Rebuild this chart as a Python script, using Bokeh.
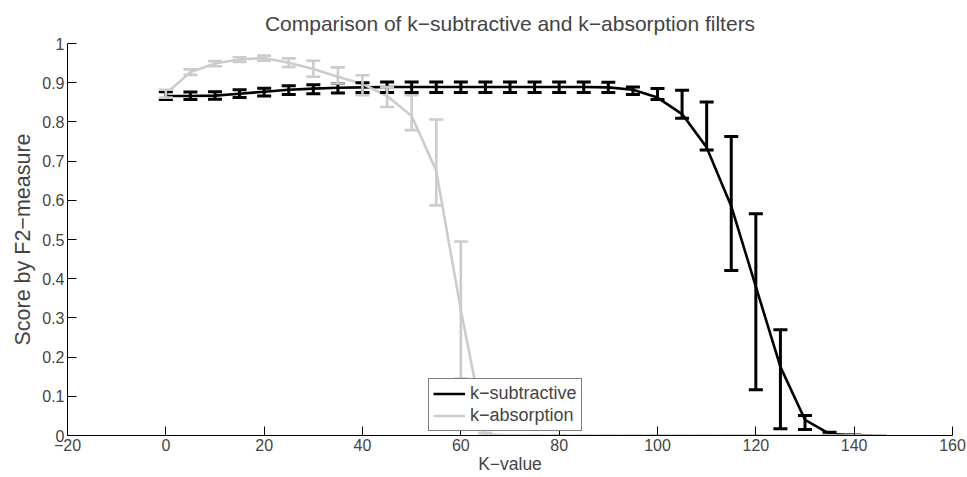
from bokeh.plotting import figure
from bokeh.models import (Range1d, FixedTicker, Whisker, TeeHead, ColumnDataSource,
                          Legend, LegendItem)
from bokeh.embed import file_html
from bokeh.resources import INLINE

# ---- data ----
k_values = [0, 5, 10, 15, 20, 25, 30, 35, 40, 45, 50, 55, 60, 65, 70,
            75, 80, 85, 90, 95, 100, 105, 110, 115, 120, 125, 130, 135, 140, 145]

sub_mean = [0.866, 0.866, 0.867, 0.872, 0.877, 0.882, 0.885, 0.887, 0.888, 0.889,
            0.889, 0.889, 0.889, 0.889, 0.889, 0.889, 0.889, 0.889, 0.888, 0.882,
            0.862, 0.820, 0.735, 0.585, 0.380, 0.175, 0.040, 0.004, 0.001, 0.000]
sub_low = [0.857, 0.857, 0.858, 0.862, 0.866, 0.870, 0.872, 0.874, 0.875, 0.875,
           0.875, 0.875, 0.875, 0.875, 0.875, 0.875, 0.875, 0.875, 0.875, 0.870,
           0.857, 0.809, 0.728, 0.421, 0.117, 0.017, 0.015, 0.000, 0.000, 0.000]
sub_high = [0.877, 0.876, 0.877, 0.882, 0.886, 0.892, 0.895, 0.898, 0.900, 0.902,
            0.902, 0.902, 0.902, 0.902, 0.902, 0.902, 0.902, 0.902, 0.901, 0.889,
            0.885, 0.881, 0.851, 0.763, 0.566, 0.270, 0.051, 0.008, 0.001, 0.000]

abs_mean = [0.872, 0.927, 0.949, 0.959, 0.963, 0.951, 0.935, 0.915, 0.897, 0.866,
            0.815, 0.675, 0.320, 0.003, 0.0, 0.0, 0.0, 0.0, 0.0, 0.0,
            0.0, 0.0, 0.0, 0.0, 0.0, 0.0, 0.0, 0.0, 0.0, 0.0]
abs_low = [0.862, 0.920, 0.942, 0.953, 0.956, 0.940, 0.915, 0.898, 0.868, 0.838,
           0.779, 0.587, 0.145, 0.000, 0.0, 0.0, 0.0, 0.0, 0.0, 0.0,
           0.0, 0.0, 0.0, 0.0, 0.0, 0.0, 0.0, 0.0, 0.0, 0.0]
abs_high = [0.882, 0.934, 0.955, 0.965, 0.969, 0.962, 0.956, 0.939, 0.919, 0.889,
            0.868, 0.806, 0.495, 0.007, 0.0, 0.0, 0.0, 0.0, 0.0, 0.0,
            0.0, 0.0, 0.0, 0.0, 0.0, 0.0, 0.0, 0.0, 0.0, 0.0]

title_text = "Comparison of k\u2212subtractive and k\u2212absorption filters"
series_names = ["k\u2212subtractive", "k\u2212absorption"]
x_ticks = [-20, 0, 20, 40, 60, 80, 100, 120, 140, 160]
x_tick_labels = ["\u221220", "0", "20", "40", "60", "80", "100", "120", "140", "160"]
y_ticks = [0, 0.1, 0.2, 0.3, 0.4, 0.5, 0.6, 0.7, 0.8, 0.9, 1]
y_tick_labels = ["0", "0.1", "0.2", "0.3", "0.4", "0.5", "0.6", "0.7", "0.8", "0.9", "1"]

FONT = "Liberation Sans"
GRAY = "#cccccc"

p = figure(width=966, height=476, x_range=Range1d(-20, 160), y_range=Range1d(0, 1),
           output_backend="svg", toolbar_location=None,
           min_border_left=67, min_border_right=14, min_border_top=43, min_border_bottom=41)
p.outline_line_color = None
p.grid.visible = False
p.background_fill_color = "white"

p.title.text = title_text
p.title.align = "center"
p.title.text_font = FONT
p.title.text_font_size = "21px"
p.title.text_font_style = "normal"
p.title.standoff = 17

for ax in (p.xaxis[0], p.yaxis[0]):
    ax.axis_line_color = "black"
    ax.major_tick_line_color = "black"
    ax.major_tick_in = 9
    ax.major_tick_out = 0
    ax.minor_tick_line_color = None
    ax.major_label_text_font = FONT
    ax.major_label_text_font_size = "16px"
    ax.axis_label_text_font = FONT
    ax.axis_label_text_font_style = "normal"

p.xaxis.axis_label_text_font_size = "17.5px"
p.yaxis.axis_label_text_font_size = "21.5px"
p.xaxis.ticker = FixedTicker(ticks=x_ticks)
p.xaxis.major_label_overrides = {t: l for t, l in zip(x_ticks, x_tick_labels)}
p.yaxis.ticker = FixedTicker(ticks=y_ticks)
p.yaxis.major_label_overrides = {t: l for t, l in zip(y_ticks, y_tick_labels)}
p.xaxis.axis_label = "K\u2212value"
p.yaxis.axis_label = "Score by F2\u2212measure"
p.xaxis.axis_label_standoff = 0
p.yaxis.axis_label_standoff = 4
p.xaxis.major_label_standoff = 3
p.yaxis.major_label_standoff = 3

src_sub = ColumnDataSource(dict(x=k_values, y=sub_mean, lo=sub_low, hi=sub_high))
src_abs = ColumnDataSource(dict(x=k_values, y=abs_mean, lo=abs_low, hi=abs_high))


def add_whisker(src, color, lw, cap):
    w = Whisker(base="x", lower="lo", upper="hi", source=src, line_color=color,
                line_width=lw, level="glyph",
                upper_head=TeeHead(size=cap, line_color=color, line_width=lw),
                lower_head=TeeHead(size=cap, line_color=color, line_width=lw))
    p.add_layout(w)


add_whisker(src_sub, "black", 3, 14)
r_sub = p.line("x", "y", source=src_sub, line_color="black", line_width=2.6)
add_whisker(src_abs, GRAY, 2.6, 14)
r_abs = p.line("x", "y", source=src_abs, line_color=GRAY, line_width=2.6)

legend = Legend(items=[LegendItem(label=series_names[0], renderers=[r_sub]),
                       LegendItem(label=series_names[1], renderers=[r_abs])],
                location=(361, 4), border_line_color="black", border_line_width=1,
                label_text_font=FONT, label_text_font_size="18px",
                glyph_width=32, glyph_height=19, label_height=19,
                padding=4, spacing=1, margin=0, label_standoff=5,
                background_fill_color="white", background_fill_alpha=1)
p.add_layout(legend)

open("out.html", "w").write(file_html(p, INLINE))
